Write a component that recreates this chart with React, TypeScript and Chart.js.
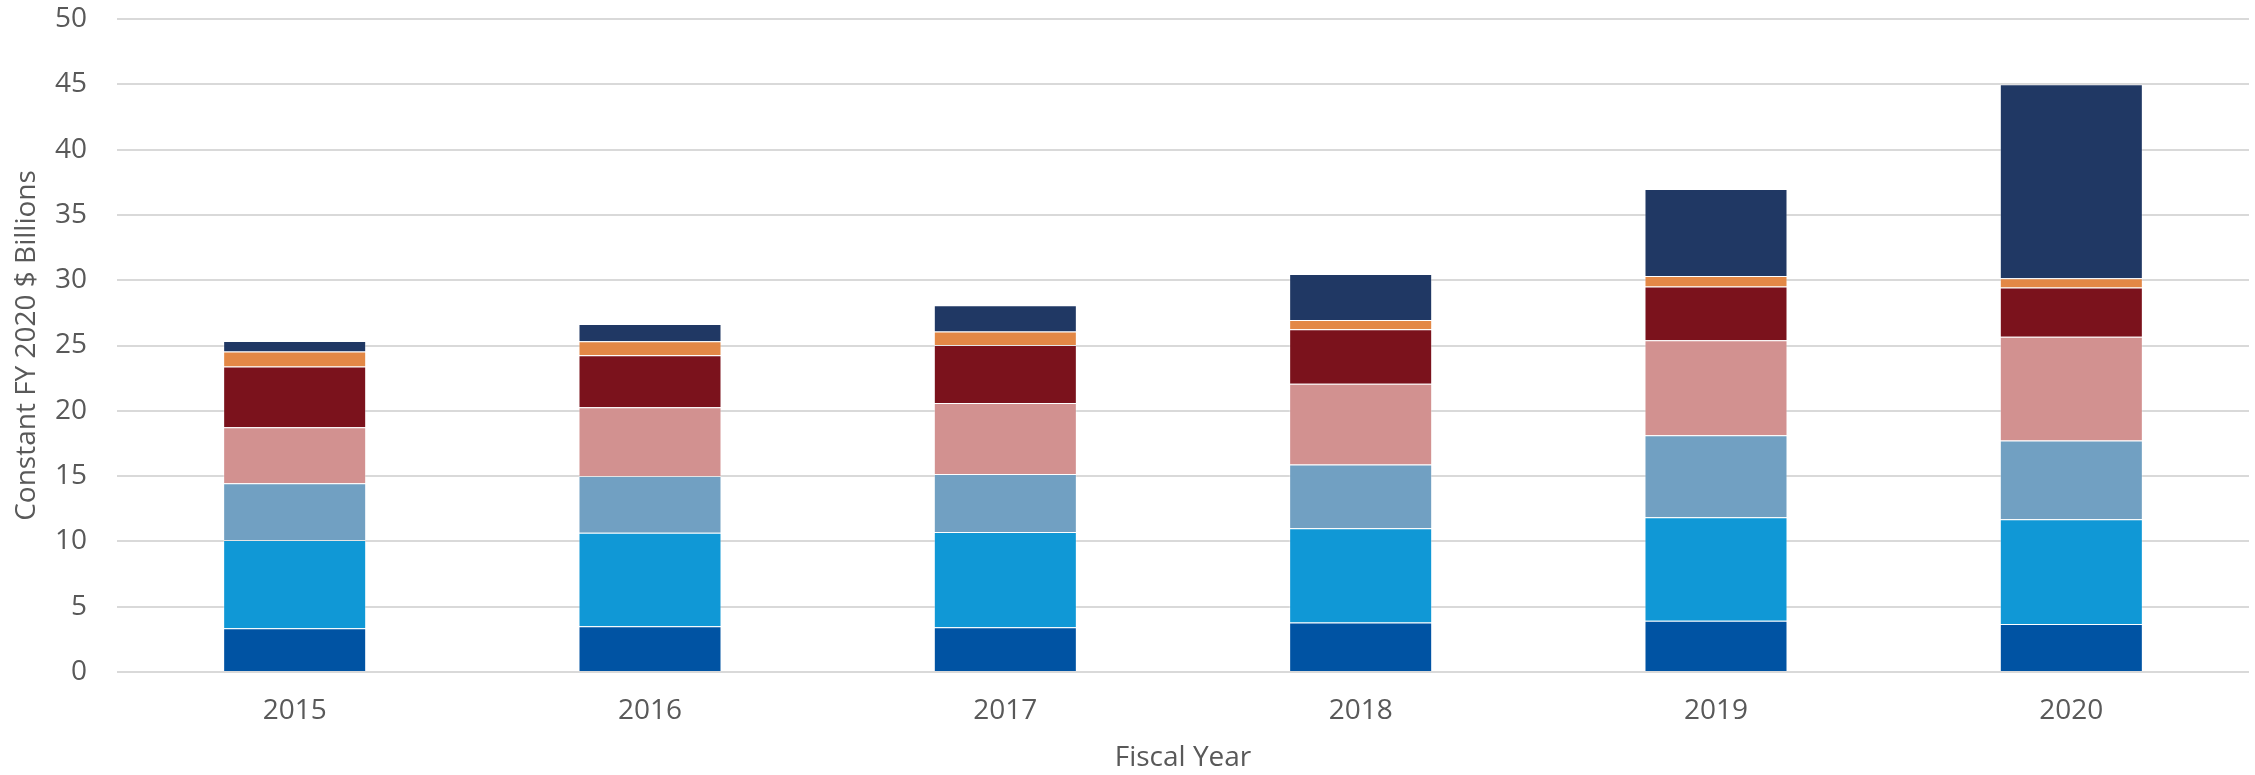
import React, { useEffect, useRef } from "react";
import { Chart, registerables } from "chart.js";

Chart.register(...registerables);

const years = ["2015", "2016", "2017", "2018", "2019", "2020"];
const seriesNames = ["Series 1", "Series 2", "Series 3", "Series 4", "Series 5", "Series 6", "Series 7"];
const series1 = [3.35, 3.5, 3.43, 3.79, 3.92, 3.68];
const series2 = [6.75, 7.16, 7.29, 7.21, 7.93, 8.01];
const series3 = [4.35, 4.34, 4.45, 4.89, 6.27, 6.04];
const series4 = [4.3, 5.28, 5.43, 6.18, 7.28, 7.94];
const series5 = [4.65, 3.97, 4.43, 4.17, 4.12, 3.78];
const series6 = [1.15, 1.07, 1.04, 0.72, 0.8, 0.7];
const series7 = [0.8, 1.33, 2.02, 3.52, 6.67, 14.85];
const seriesColors = ["#0053A3", "#1098D6", "#71A0C2", "#D29190", "#7B121C", "#E38846", "#203864"];
const yTicks = [0, 5, 10, 15, 20, 25, 30, 35, 40, 45, 50];

export default function App() {
  const ref = useRef<HTMLCanvasElement | null>(null);
  useEffect(() => {
    if (!ref.current) return;
    const all = [series1, series2, series3, series4, series5, series6, series7];
    const chart = new Chart(ref.current, {
      type: "bar",
      data: {
        labels: years,
        datasets: all.map((d, i) => ({
          label: seriesNames[i],
          data: d,
          backgroundColor: seriesColors[i],
          borderColor: "rgba(255,255,255,0.3)",
          borderWidth: 1,
          barPercentage: 0.4025,
          categoryPercentage: 1,
        })),
      },
      options: {
        responsive: false,
        animation: false,
        layout: { padding: { top: 19, right: 6, left: 0, bottom: 0 } },
        plugins: { legend: { display: false }, tooltip: { enabled: false } },
        scales: {
          x: {
            stacked: true,
            grid: { display: false, drawTicks: false },
            border: { display: false },
            ticks: {
              color: "#595959",
              font: { family: "'Open Sans'", size: 28 },
              padding: 22,
            },
            title: {
              display: true,
              text: "Fiscal Year",
              color: "#595959",
              font: { family: "'Open Sans'", size: 28 },
              padding: { top: 0, bottom: 0 },
            },
            afterFit: (s: any) => {
              s.height = 103;
              s.paddingLeft = 0;
              s.paddingRight = 0;
            },
          },
          y: {
            stacked: true,
            min: 0,
            max: 50,
            afterBuildTicks: (s: any) => {
              s.ticks = yTicks.map((v) => ({ value: v }));
            },
            grid: { color: "#D9D9D9", lineWidth: 2, drawTicks: false },
            border: { display: false },
            ticks: {
              color: "#595959",
              font: { family: "'Open Sans'", size: 28 },
              padding: 30,
            },
            title: {
              display: true,
              text: "Constant FY 2020 $ Billions",
              color: "#595959",
              font: { family: "'Open Sans'", size: 28 },
              padding: { top: 10, bottom: 0 },
            },
            afterFit: (s: any) => {
              s.width = 117;
              s.paddingTop = 0;
              s.paddingBottom = 0;
            },
          },
        },
      },
    });
    return () => chart.destroy();
  }, []);
  return (
    <div style={{ position: "fixed", left: 0, top: 0, width: 2255, height: 775, background: "#fff" }}>
      <canvas ref={ref} width={2255} height={775} style={{ width: 2255, height: 775 }} />
    </div>
  );
}
